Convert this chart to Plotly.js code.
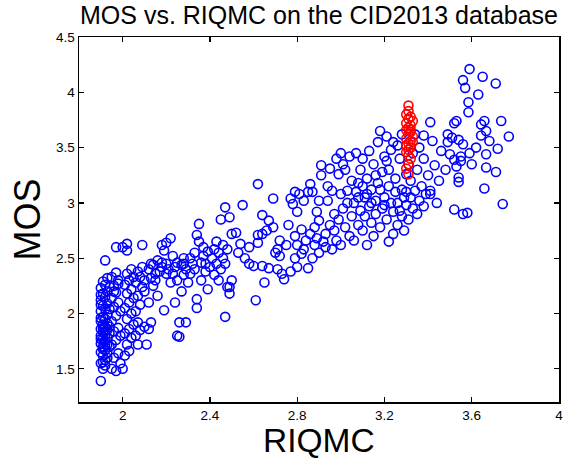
<!DOCTYPE html>
<html>
<head>
<meta charset="utf-8">
<script src="https://cdn.plot.ly/plotly-3.0.1.min.js"></script>
<style>html,body{margin:0;padding:0;background:#fff;}#chart{width:569px;height:461px;}</style>
</head>
<body>
<div id="chart"></div>
<script>
// Blue points: all images (RIQMC, MOS)
const blueX = [
1.90,1.91,1.90,1.92,1.91,1.93,1.90,1.92,1.91,1.93,1.90,1.92,1.91,1.93,1.90,1.92,1.91,1.93,1.90,1.92,1.91,1.93,1.90,1.92,1.91,1.93,1.90,1.92,1.91,1.93,1.90,1.92,1.91,1.93,1.90,1.92,1.91,1.93,1.92,1.91,1.92,1.90,1.92,1.91,1.90,1.93,1.91,1.92,1.94,1.94,1.94,1.94,1.94,1.90,1.90,
1.95,1.97,1.96,1.98,1.95,1.97,1.96,1.98,1.95,1.97,1.96,1.98,1.95,1.97,1.96,1.98,1.95,1.97,1.96,1.99,1.99,1.99,1.97,1.98,
2.00,2.01,2.03,2.02,2.04,2.01,2.03,2.05,2.02,2.04,2.01,2.03,2.05,2.02,2.04,2.01,2.03,2.05,2.02,2.04,2.02,2.02,2.00,2.07,2.06,2.08,2.07,2.06,2.08,2.07,2.09,2.06,2.08,2.07,2.09,2.10,2.09,2.10,2.10,
2.11,2.12,2.13,2.12,2.14,2.13,2.15,2.12,2.14,2.16,2.15,2.17,2.18,2.16,2.18,2.19,2.20,2.20,2.19,2.20,2.18,2.13,
2.22,2.21,2.22,2.23,2.24,2.25,2.26,2.25,2.26,2.29,2.27,2.28,2.27,2.28,2.29,2.25,2.23,2.30,2.24,2.28,
2.31,2.32,2.33,2.34,2.34,2.35,2.35,2.36,2.34,2.37,2.38,2.36,2.39,2.38,2.33,2.40,2.39,2.31,2.37,
2.41,2.42,2.43,2.44,2.45,2.45,2.46,2.47,2.47,2.48,2.49,2.49,2.49,2.46,2.48,2.50,2.50,2.43,2.44,2.47,2.42,
2.52,2.54,2.55,2.58,2.58,2.60,2.61,2.62,2.62,2.62,2.64,2.64,2.64,2.65,2.66,2.67,2.67,2.69,2.69,2.70,2.71,2.71,2.72,2.72,2.56,2.53,
2.73,2.74,2.77,2.77,2.78,2.79,2.79,2.80,2.80,2.81,2.82,2.83,2.85,2.85,2.86,2.87,2.79,2.80,2.82,2.84,2.83,2.86,2.88,2.88,2.89,2.90,2.90,2.89,2.91,2.91,2.90,2.87,2.76,2.75,
2.92,2.93,2.94,2.95,2.93,2.95,2.96,2.96,2.97,2.97,2.98,2.99,2.99,3.00,3.00,3.01,3.01,3.02,3.03,3.03,3.04,3.04,3.05,3.05,3.02,2.98,3.00,2.94,
3.06,3.06,3.07,3.07,3.08,3.08,3.09,3.09,3.10,3.10,3.11,3.11,3.12,3.12,3.13,3.13,3.14,3.14,3.15,3.15,3.16,3.16,3.17,3.17,3.18,3.18,3.19,3.19,3.20,3.20,3.21,3.21,3.22,3.22,3.23,3.23,3.24,3.24,3.25,3.25,3.18,3.12,3.10,3.16,3.20,3.14,3.08,3.22,3.24,3.21,
3.26,3.26,3.27,3.27,3.28,3.28,3.29,3.29,3.30,3.30,3.31,3.31,3.32,3.32,3.33,3.33,3.34,3.35,3.35,3.36,3.36,3.37,3.38,3.38,3.39,3.40,3.41,3.41,3.41,3.38,3.43,3.45,3.42,3.44,3.34,3.26,3.28,3.30,
3.46,3.49,3.50,3.49,3.51,3.52,3.53,3.52,3.53,3.54,3.54,3.54,3.55,3.55,3.52,3.56,3.56,3.56,3.57,3.58,3.59,3.585,3.585,3.59,3.63,3.65,3.643,3.658,3.666,3.643,3.681,3.719,3.666,3.666,3.711,3.658,3.742,3.735,3.77,3.71,3.48,3.60,3.62
];
const blueY = [
1.39,1.50,1.55,1.58,1.62,1.60,1.65,1.67,1.70,1.72,1.73,1.75,1.77,1.78,1.80,1.81,1.83,1.85,1.86,1.88,1.90,1.91,1.93,1.95,1.97,1.99,2.02,2.04,2.07,2.09,2.12,2.15,2.18,2.20,2.23,2.26,2.29,2.32,2.48,1.68,1.72,1.77,1.84,1.87,1.96,1.64,1.56,1.53,1.70,1.82,1.88,2.04,2.24,2.17,2.08,
1.50,1.48,1.60,1.64,1.72,1.76,1.84,1.87,1.93,1.98,2.06,2.10,2.14,2.19,2.25,2.30,2.33,2.37,2.20,1.55,1.80,2.02,2.60,2.27,
1.50,1.62,1.66,1.72,1.78,1.82,1.86,1.90,1.95,2.00,2.05,2.10,2.14,2.18,2.22,2.26,2.30,2.33,2.36,2.40,2.57,2.63,2.60,1.72,1.80,1.85,1.92,2.02,2.08,2.16,2.24,2.28,2.33,2.38,2.42,1.88,2.62,2.20,2.30,
1.72,1.86,1.92,2.10,2.25,2.32,2.36,2.40,2.44,2.16,2.30,2.38,2.42,2.48,2.62,2.03,2.36,2.45,2.57,2.64,2.46,2.45,
2.68,2.40,2.28,2.36,2.42,2.30,1.92,1.80,1.79,1.92,2.20,2.35,2.44,2.50,2.40,2.46,2.52,2.28,2.10,2.45,
2.36,2.45,2.40,2.13,2.71,2.65,2.81,2.46,2.05,2.52,2.38,2.30,2.56,2.45,2.55,2.42,2.22,2.50,2.60,
2.50,2.58,2.45,2.55,2.40,2.85,2.62,2.96,1.97,2.24,2.18,2.24,2.87,2.50,2.58,2.72,2.30,2.65,2.30,2.45,2.35,
2.73,2.63,2.98,2.60,2.45,2.43,2.12,2.64,3.17,2.71,2.72,2.43,2.89,2.28,2.75,2.84,2.41,3.04,2.78,2.55,2.40,2.58,2.66,2.52,2.50,2.55,
2.36,2.31,2.38,3.04,2.99,3.10,2.50,2.42,2.92,3.08,2.54,3.02,2.41,3.10,3.17,3.10,2.70,2.62,2.76,2.66,2.58,2.72,2.62,2.78,2.92,2.84,2.55,2.68,3.34,3.25,3.02,2.50,2.80,2.62,
2.65,2.72,3.02,3.31,2.60,2.80,3.11,2.58,2.90,2.75,2.66,3.26,2.85,3.08,2.62,3.35,2.95,2.78,3.11,3.00,3.42,2.70,2.88,3.20,3.30,3.40,3.45,3.15,
2.66,3.00,3.45,3.10,2.80,3.18,2.93,3.30,3.40,2.75,3.05,2.88,2.62,3.22,3.47,2.97,3.12,2.82,3.35,2.70,3.02,2.90,3.55,3.18,3.65,2.78,3.28,2.95,3.42,3.05,2.85,3.38,2.65,3.15,3.00,3.48,2.92,2.72,3.22,3.10,3.12,3.08,3.15,3.25,2.98,3.00,3.05,3.30,3.55,3.60,
2.80,3.00,2.93,3.40,2.88,3.12,2.75,3.05,2.98,3.26,3.35,2.85,3.20,3.05,2.95,3.45,3.11,2.90,3.30,3.02,3.50,3.15,2.97,3.40,3.08,3.25,3.11,3.73,3.08,3.61,3.34,3.20,3.56,3.00,3.62,3.52,3.62,3.10,
3.47,3.55,3.44,3.62,3.59,3.72,3.74,3.39,3.33,3.57,3.19,3.23,3.42,3.38,2.94,2.90,3.53,4.11,4.04,2.91,4.21,3.91,3.82,3.45,3.98,4.14,3.71,3.74,3.65,3.61,3.56,3.49,3.44,3.32,3.28,3.13,2.99,3.74,3.60,4.08,3.30,3.35,3.50
];
// Red points: highlighted subset
const redX = [3.31,3.31,3.30,3.32,3.31,3.33,3.30,3.32,3.31,3.30,3.32,3.31,3.33,3.30,3.32,3.31,3.30,3.32,3.31,3.33,3.30,3.31,3.32,3.31,3.31,3.30,3.32];
const redY = [3.88,3.83,3.80,3.78,3.76,3.74,3.72,3.70,3.68,3.66,3.64,3.62,3.60,3.58,3.56,3.54,3.52,3.50,3.48,3.55,3.46,3.43,3.40,3.35,3.26,3.31,3.66];

const xTicks = [2, 2.4, 2.8, 3.2, 3.6, 4];
const xTickLabels = ['2', '2.4', '2.8', '3.2', '3.6', '4'];
const yTicks = [1.5, 2, 2.5, 3, 3.5, 4, 4.5];
const yTickLabels = ['1.5', '2', '2.5', '3', '3.5', '4', '4.5'];

const font = 'Arial, "Liberation Sans", Helvetica, sans-serif';
const mk = (c) => ({symbol: 'circle-open', size: 9, color: c, line: {width: 1.6, color: c}});

const data = [
  {type: 'scatter', mode: 'markers', x: blueX, y: blueY, marker: mk('rgb(0,0,255)'), hoverinfo: 'none'},
  {type: 'scatter', mode: 'markers', x: redX, y: redY, marker: mk('rgb(255,0,0)'), hoverinfo: 'none'}
];

const axisCommon = {
  showgrid: false, zeroline: false, showline: true, mirror: 'ticks',
  linecolor: '#000', linewidth: 1.5, ticks: 'inside', ticklen: 5, tickwidth: 1.2, tickcolor: '#000',
  tickfont: {family: font, size: 13.5, color: '#000'}, tickmode: 'array', fixedrange: true
};

const layout = {
  width: 569, height: 461,
  margin: {l: 79, r: 10, t: 37, b: 59},
  paper_bgcolor: '#fff', plot_bgcolor: '#fff',
  showlegend: false,
  title: {text: 'MOS vs. RIQMC on the CID2013 database', font: {family: font, size: 25, color: '#000'},
          xref: 'paper', x: 0.5, xanchor: 'center', yref: 'container', y: 0.968, yanchor: 'middle'},
  xaxis: Object.assign({}, axisCommon, {range: [1.8, 4], tickvals: xTicks, ticktext: xTickLabels}),
  yaxis: Object.assign({}, axisCommon, {range: [1.2, 4.5], tickvals: yTicks, ticktext: yTickLabels,
          title: {text: 'MOS', font: {family: font, size: 36, color: '#000'}, standoff: 4}}),
  annotations: [{text: 'RIQMC', xref: 'paper', yref: 'paper', x: 0.5, y: -0.1068,
                 xanchor: 'center', yanchor: 'middle', showarrow: false, borderpad: 0,
                 font: {family: font, size: 33.5, color: '#000'}}]
};

Plotly.newPlot('chart', data, layout, {staticPlot: true, displayModeBar: false});
</script>
</body>
</html>
